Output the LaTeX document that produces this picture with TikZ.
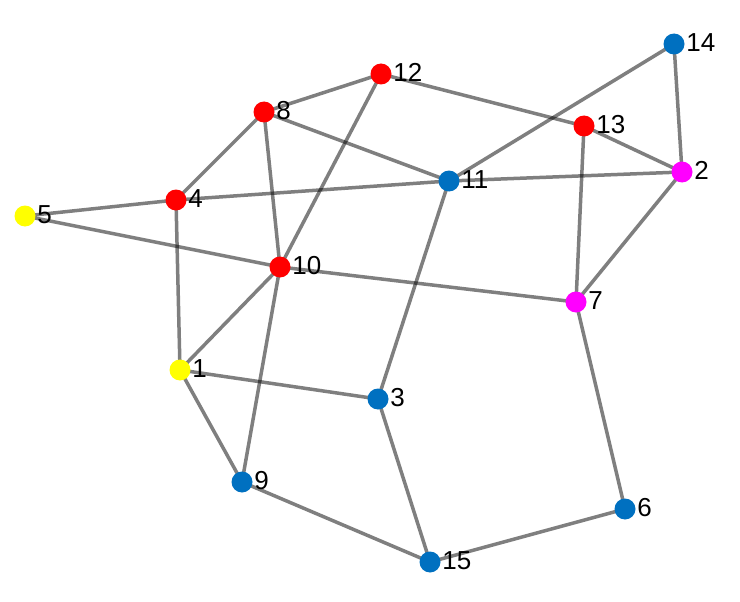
\documentclass[tikz,border=0pt]{standalone}
\usepackage{fontspec}
\setmainfont{Liberation Sans}
\definecolor{nblue}{RGB}{0,112,192}
\definecolor{nred}{RGB}{255,0,0}
\definecolor{nyellow}{RGB}{255,255,0}
\definecolor{nmag}{RGB}{255,0,255}
\begin{document}
\begin{tikzpicture}[x=1pt,y=-1pt,
  vert/.style={circle,inner sep=0pt,minimum size=21pt,fill=#1},
  lbl/.style={anchor=west,inner sep=0pt,font=\fontsize{26}{26}\selectfont},
  edge/.style={draw=black,opacity=0.5,line width=3.5pt}]
\useasboundingbox (0,0) rectangle (740,602);
\coordinate (p14) at (674,44);
\coordinate (p12) at (381,74);
\coordinate (p8) at (264,112);
\coordinate (p13) at (584,126);
\coordinate (p2) at (682,172);
\coordinate (p11) at (449,181);
\coordinate (p4) at (176,200);
\coordinate (p5) at (25,216);
\coordinate (p10) at (280,267);
\coordinate (p7) at (576,302);
\coordinate (p1) at (180,370);
\coordinate (p3) at (378,399);
\coordinate (p9) at (242,482);
\coordinate (p6) at (625,509);
\coordinate (p15) at (430,562);
\foreach \a/\b in {14/11,14/2,12/8,12/13,12/10,8/4,8/11,8/10,13/2,13/7,4/11,11/2,2/7,5/4,5/10,10/7,10/1,10/9,4/1,1/3,1/9,11/3,3/15,9/15,15/6,7/6}
  \draw[edge] (p\a) -- (p\b);
\foreach \n/\c in {14/nblue,12/nred,8/nred,13/nred,2/nmag,11/nblue,4/nred,5/nyellow,10/nred,7/nmag,1/nyellow,3/nblue,9/nblue,6/nblue,15/nblue}{
  \node[vert=\c] (n\n) at (p\n) {};
  \node[lbl] (l\n) at ([xshift=1.5pt,yshift=1.5pt]n\n.east) {\n};
}
\end{tikzpicture}
\end{document}
